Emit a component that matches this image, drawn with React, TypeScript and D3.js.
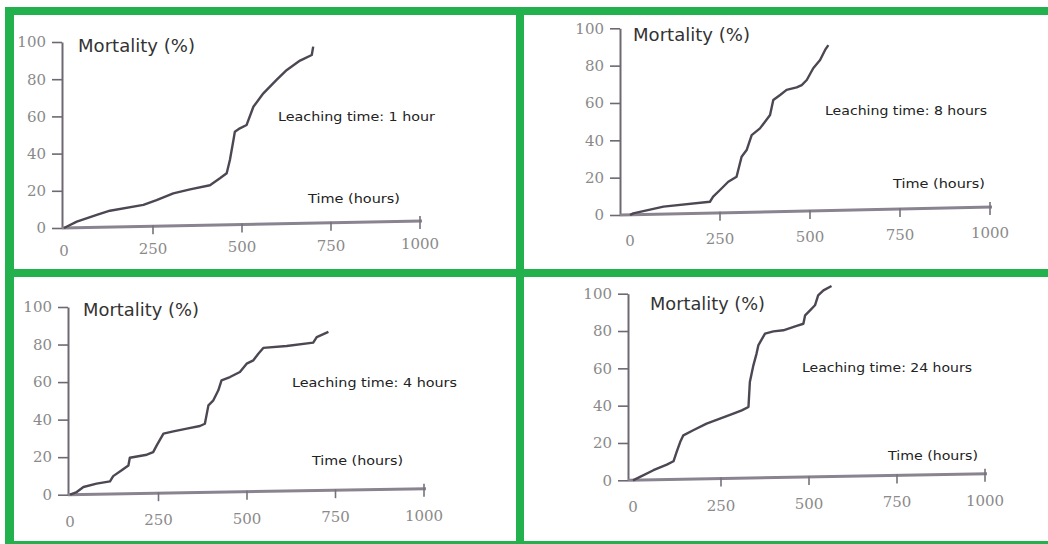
import React, { useEffect, useRef } from "react";
import * as d3 from "d3";

// mortality (%), against time (hours)
const hours1 = [0, 36, 92, 129, 223, 260, 307, 354, 410, 438, 457, 466, 476, 480, 494, 513, 532, 560, 597, 626, 663, 696, 700];
const mort1 = [0, 3.4, 7, 9.3, 12.4, 15, 18.6, 20.8, 23, 26.7, 29.4, 36.6, 47.3, 51.8, 53.6, 55.4, 65.2, 72.4, 79.6, 85, 90, 93, 97.5];

const hours8 = [0, 9, 93, 222, 231, 250, 273, 296, 310, 324, 338, 361, 389, 398, 417, 435, 463, 477, 491, 509, 528, 542, 551];
const mort8 = [0, 0.9, 4.5, 7.1, 9.8, 13.4, 17.8, 20.5, 31.2, 34.8, 42.8, 46.4, 53.6, 61.6, 64.3, 67, 68.4, 69.6, 72.3, 78.6, 83, 88.4, 91];

const hours4 = [0, 19, 38, 75, 113, 122, 146, 165, 169, 217, 235, 245, 264, 292, 330, 367, 381, 391, 405, 419, 428, 452, 480, 499, 518, 532, 546, 612, 687, 697, 730];
const mort4 = [0, 1.4, 4.1, 5.9, 7.1, 9.9, 13, 15.6, 19.7, 21.3, 22.7, 26.3, 32.5, 33.7, 35.2, 36.6, 37.8, 47.6, 50.3, 55.6, 60.9, 62.7, 65.4, 69.8, 71.6, 75.1, 78.2, 79.2, 81, 84, 86.7];

const hours24 = [0, 20, 58, 96, 115, 124, 134, 143, 171, 209, 247, 285, 309, 328, 332, 342, 351, 356, 375, 399, 427, 465, 484, 489, 503, 517, 526, 541, 564];
const mort24 = [0, 1.8, 5.4, 8.4, 10.2, 15.2, 20.5, 24.1, 26.8, 30.4, 33, 35.7, 37.5, 39.3, 52.7, 61.6, 67.9, 72.3, 78.6, 79.8, 80.4, 82.7, 83.9, 88.4, 91.1, 93.8, 99.1, 101.8, 104.1];

const xTicks = [0, 250, 500, 750, 1000];
const yTicks = [0, 20, 40, 60, 80, 100];
const leachLabels = ["Leaching time: 1 hour", "Leaching time: 8 hours", "Leaching time: 4 hours", "Leaching time: 24 hours"];

// where each panel sits in the scanned figure
const panels = [
  { hours: hours1, mort: mort1, axisX: 62, xr: [64, 420], yr: [228, 42], tilt: 7, gap: 28, mt: [78, 51.5, 117], lt: [278, 120.5, 157], tt: [308, 203, 92] },
  { hours: hours8, mort: mort8, axisX: 620, xr: [630, 990], yr: [215, 28.3], tilt: 8, gap: 31, mt: [633, 41, 117], lt: [825, 115, 162], tt: [893, 188, 92] },
  { hours: hours4, mort: mort4, axisX: 68, xr: [70, 424], yr: [494.7, 307], tilt: 6, gap: 32, mt: [83, 316.3, 116], lt: [292, 387, 165], tt: [312, 464.7, 91] },
  { hours: hours24, mort: mort24, axisX: 628, xr: [633, 985], yr: [480.3, 293.7], tilt: 6.5, gap: 32, mt: [650, 309.7, 115], lt: [802, 372, 170], tt: [888, 460.3, 90] },
];

const GREEN = "#22b14c";

export default function App() {
  const svgRef = useRef(null);

  useEffect(() => {
    const width = 1048;
    const height = 544;
    const svg = d3.select(svgRef.current).attr("width", width).attr("height", height);
    svg.selectAll("*").remove();

    svg.append("rect").attr("width", width).attr("height", height).attr("fill", "#fff");

    panels.forEach((p, i) => {
      const g = svg.append("g");
      const x = d3.scaleLinear().domain([0, 1000]).range(p.xr);
      const y = d3.scaleLinear().domain([0, 100]).range(p.yr);
      const rise = (v) => (p.tilt * (x(v) - p.axisX)) / (x(1000) - p.axisX);

      // y axis
      const ya = g
        .append("g")
        .attr("transform", `translate(${p.axisX},0)`)
        .call(d3.axisLeft(y).tickValues(yTicks).tickSize(10).tickSizeOuter(0).tickPadding(6));
      ya.select(".domain").attr("stroke", "#6e6873").attr("stroke-width", 2);
      ya.selectAll(".tick line").attr("stroke", "#6e6873").attr("stroke-width", 1.6);
      ya.selectAll(".tick text")
        .attr("fill", "#8a8a8a")
        .style("font-family", "'DejaVu Serif', serif")
        .style("font-size", "15px");

      // x axis, slightly tilted as in the scan
      g.append("line")
        .attr("x1", p.axisX)
        .attr("y1", y(0))
        .attr("x2", x(1000) + 2)
        .attr("y2", y(0) - p.tilt)
        .attr("stroke", "#8a8390")
        .attr("stroke-width", 3);

      g.selectAll(".xt")
        .data(xTicks.filter((d) => d > 0))
        .enter()
        .append("line")
        .attr("x1", (d) => x(d))
        .attr("x2", (d) => x(d))
        .attr("y1", (d) => y(0) - rise(d) - (d === 1000 ? 5 : 1))
        .attr("y2", (d) => y(0) - rise(d) + 8)
        .attr("stroke", "#77717c")
        .attr("stroke-width", 1.6);

      g.selectAll(".xl")
        .data(xTicks)
        .enter()
        .append("text")
        .attr("x", (d) => x(d))
        .attr("y", (d) => y(0) - rise(d) + p.gap)
        .attr("text-anchor", "middle")
        .attr("fill", "#8a8a8a")
        .style("font-family", "'DejaVu Serif', serif")
        .style("font-size", "15px")
        .text((d) => d);

      // mortality curve
      const line = d3
        .line()
        .x((d) => x(d[0]))
        .y((d) => y(d[1]));
      g.append("path")
        .datum(d3.zip(p.hours, p.mort))
        .attr("d", line)
        .attr("fill", "none")
        .attr("stroke", "#4d4753")
        .attr("stroke-width", 2.4)
        .attr("stroke-linejoin", "round");

      const label = (t, spec, size, color) =>
        g.append("text")
          .attr("x", spec[0])
          .attr("y", spec[1])
          .attr("textLength", spec[2])
          .attr("lengthAdjust", "spacingAndGlyphs")
          .attr("fill", color)
          .style("font-family", "'DejaVu Sans', sans-serif")
          .style("font-size", `${size}px`)
          .text(t);

      label("Mortality (%)", p.mt, 17, "#333");
      label(leachLabels[i], p.lt, 12.5, "#222");
      label("Time (hours)", p.tt, 12.5, "#222");
    });

    // green frame
    const frame = [
      [5, 7, 1043, 8],
      [5, 7, 9, 537],
      [516, 7, 8, 537],
      [5, 269, 1043, 8],
      [5, 541, 1043, 3],
    ];
    svg.selectAll(".frame")
      .data(frame)
      .enter()
      .append("rect")
      .attr("x", (d) => d[0])
      .attr("y", (d) => d[1])
      .attr("width", (d) => d[2])
      .attr("height", (d) => d[3])
      .attr("fill", GREEN);
  }, []);

  return <svg ref={svgRef} style={{ position: "absolute", left: 0, top: 0 }}></svg>;
}
